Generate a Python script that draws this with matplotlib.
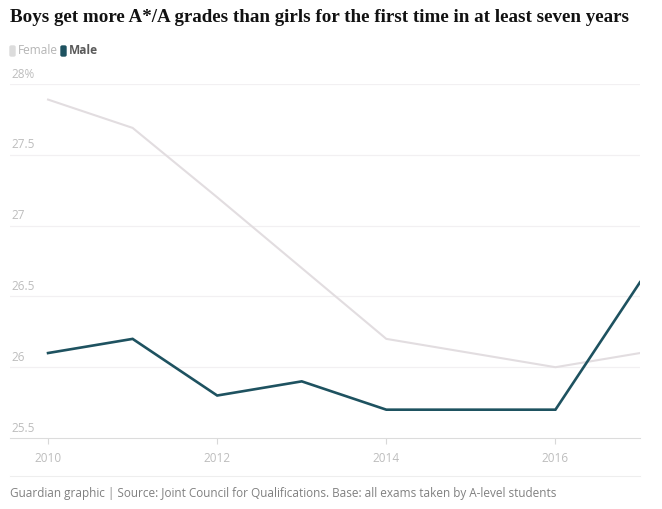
import matplotlib
matplotlib.use("Agg")
import matplotlib.pyplot as plt
from matplotlib.patches import FancyBboxPatch

years = [2010, 2011, 2012, 2013, 2014, 2015, 2016, 2017]
female = [27.89, 27.69, 27.2, 26.7, 26.2, 26.1, 26.0, 26.1]
male = [26.1, 26.2, 25.8, 25.9, 25.7, 25.7, 25.7, 26.6]
y_ticks = [25.5, 26, 26.5, 27, 27.5, 28]
y_labels = ["25.5", "26", "26.5", "27", "27.5", "28%"]
x_ticks = [2010, 2012, 2014, 2016]

FEMALE_C = "#e2dde0"
MALE_C = "#1e5260"
GRID_C = "#f2f0f2"
LABEL_C = "#bdbdbd"

fig = plt.figure(figsize=(6.62, 5.09), dpi=100)
W, H = 662, 509
ax = fig.add_axes([10 / W, (H - 438) / H, 630 / W, (438 - 84) / H])

ax.plot(years, female, color=FEMALE_C, lw=1.5, solid_joinstyle="miter")
ax.plot(years, male, color=MALE_C, lw=1.9, solid_joinstyle="miter")

ax.set_xlim(2009.55, 2017)
ax.set_ylim(25.5, 28)
for s in ["top", "right", "left"]:
    ax.spines[s].set_visible(False)
ax.spines["bottom"].set_color("#dcdcdc")
ax.spines["bottom"].set_linewidth(0.8)

for v in y_ticks[1:]:
    ax.axhline(v, color=GRID_C, lw=0.9, zorder=0)
ax.set_yticks([])
for v, lab in zip(y_ticks, y_labels):
    ax.annotate(lab, xy=(0.003, v), xycoords=("axes fraction", "data"),
                xytext=(0, 2.5), textcoords="offset points",
                ha="left", va="bottom", fontsize=8.5, color=LABEL_C,
                family="Open Sans")

ax.set_xticks(x_ticks)
ax.set_xticklabels([str(x) for x in x_ticks], fontsize=8.5, color=LABEL_C,
                   family="Open Sans")
ax.tick_params(axis="x", length=4, color="#d8d8d8", width=0.8, pad=6)

fig.text(10 / W, 1 - 17 / H, "Boys get more A*/A grades than girls for the first time in at least seven years",
         fontsize=13.7, fontweight="bold", family="Liberation Serif", color="#121212",
         ha="left", va="center")

# legend
fig.patches.append(FancyBboxPatch((10 / W, 1 - 56 / H), 5 / W, 10 / H,
                                  boxstyle="round,pad=0,rounding_size=0.002",
                                  transform=fig.transFigure, color="#dcdcdc"))
fig.text(18 / W, 1 - 51 / H, "Female", fontsize=8.6, color="#b5b5b5",
         family="Open Sans", ha="left", va="center")
fig.patches.append(FancyBboxPatch((61 / W, 1 - 56 / H), 5 / W, 10 / H,
                                  boxstyle="round,pad=0,rounding_size=0.002",
                                  transform=fig.transFigure, color=MALE_C))
fig.text(69 / W, 1 - 51 / H, "Male", fontsize=8.6, color="#5a5a5a",
         fontweight="bold", family="Open Sans", ha="left", va="center")

# footer
fig.add_artist(plt.Line2D([10 / W, 640 / W], [1 - 476 / H, 1 - 476 / H],
                          transform=fig.transFigure, color="#eeeeee", lw=0.8))
fig.text(10 / W, 1 - 493 / H,
         "Guardian graphic | Source: Joint Council for Qualifications. Base: all exams taken by A-level students",
         fontsize=8.45, color="#808080", family="Open Sans", ha="left", va="center")

fig.savefig("out.png", dpi=100, facecolor="white")
